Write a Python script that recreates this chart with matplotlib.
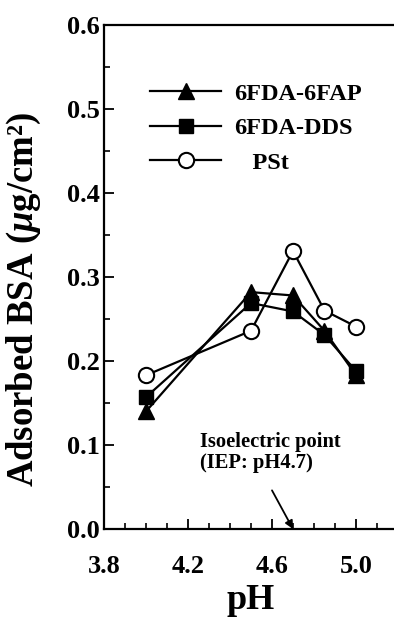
import matplotlib
matplotlib.use("Agg")
import matplotlib.pyplot as plt
from matplotlib.ticker import MultipleLocator

plt.rcParams['font.family'] = ['Liberation Serif', 'DejaVu Serif']
plt.rcParams['font.weight'] = 'bold'
plt.rcParams['mathtext.fontset'] = 'custom'
plt.rcParams['mathtext.rm'] = 'Liberation Serif:bold'
plt.rcParams['mathtext.it'] = 'Liberation Serif:bold:italic'
plt.rcParams['mathtext.bf'] = 'Liberation Serif:bold'

# Data
ph = [4.0, 4.5, 4.7, 4.85, 5.0]
fap = [0.140, 0.282, 0.278, 0.236, 0.183]
dds = [0.157, 0.269, 0.259, 0.231, 0.188]
pst = [0.183, 0.236, 0.331, 0.260, 0.241]
series_labels = ['6FDA-6FAP', '6FDA-DDS', '   PSt']
xtick_vals = [3.8, 4.2, 4.6, 5.0]
xtick_labels = ['3.8', '4.2', '4.6', '5.0']
ytick_vals = [0.0, 0.1, 0.2, 0.3, 0.4, 0.5, 0.6]
ytick_labels = ['0.0', '0.1', '0.2', '0.3', '0.4', '0.5', '0.6']
iep = 4.7

W, H = 394, 618
fig = plt.figure(figsize=(W / 100, H / 100), dpi=100)
left = 104 / W
bottom = 1 - 529 / H
top = 1 - 25 / H
right = 398 / W
ax = fig.add_axes([left, bottom, right - left, top - bottom])

lw = 1.6
ax.plot(ph, fap, color='black', lw=lw, marker='^', ms=11, mfc='black', mec='black', label=series_labels[0], zorder=3)
ax.plot(ph, dds, color='black', lw=lw, marker='s', ms=10, mfc='black', mec='black', label=series_labels[1], zorder=3)
ax.plot(ph, pst, color='black', lw=lw, marker='o', ms=11, mfc='white', mec='black', mew=1.5, label=series_labels[2], zorder=4)

ax.set_xlim(3.8, 5.2)
ax.set_ylim(0.0, 0.6)
ax.set_xticks(xtick_vals)
ax.set_xticklabels(xtick_labels)
ax.xaxis.set_minor_locator(MultipleLocator(0.1))
ax.set_yticks(ytick_vals)
ax.set_yticklabels(ytick_labels)
ax.yaxis.set_minor_locator(MultipleLocator(0.05))

ax.tick_params(axis='both', which='major', direction='in', labelsize=19, width=1.3, length=7)
ax.tick_params(axis='both', which='minor', direction='in', width=1.2, length=4)
ax.tick_params(axis='x', which='major', pad=19)
ax.tick_params(axis='y', which='major', pad=3)
ax.tick_params(top=False, right=False, which='both')

for s in ax.spines.values():
    s.set_linewidth(1.6)
ax.spines['right'].set_visible(False)

ax.set_xlabel('pH', fontsize=26, fontweight='bold', labelpad=4)
ax.set_ylabel(r'Adsorbed BSA ($\mu$g/cm²)', fontsize=26.5, fontweight='bold')
ax.yaxis.set_label_coords(-0.207, 0.456)

leg = ax.legend(loc='upper left', bbox_to_anchor=(0.125, 0.905), frameon=False,
                fontsize=17.5, handlelength=2.9, handletextpad=0.55, labelspacing=0.52,
                borderaxespad=0)

ax.annotate('', xy=(iep, 0.0), xytext=(4.6, 0.046),
            arrowprops=dict(arrowstyle='-|>', color='black', lw=1.3,
                            shrinkA=0, shrinkB=0, mutation_scale=12))
ax.text(4.255, 0.091, 'Isoelectric point\n(IEP: pH4.7)', fontsize=14.8, fontweight='bold',
        ha='left', va='center', linespacing=1.05)

fig.savefig('out.png', dpi=100)
